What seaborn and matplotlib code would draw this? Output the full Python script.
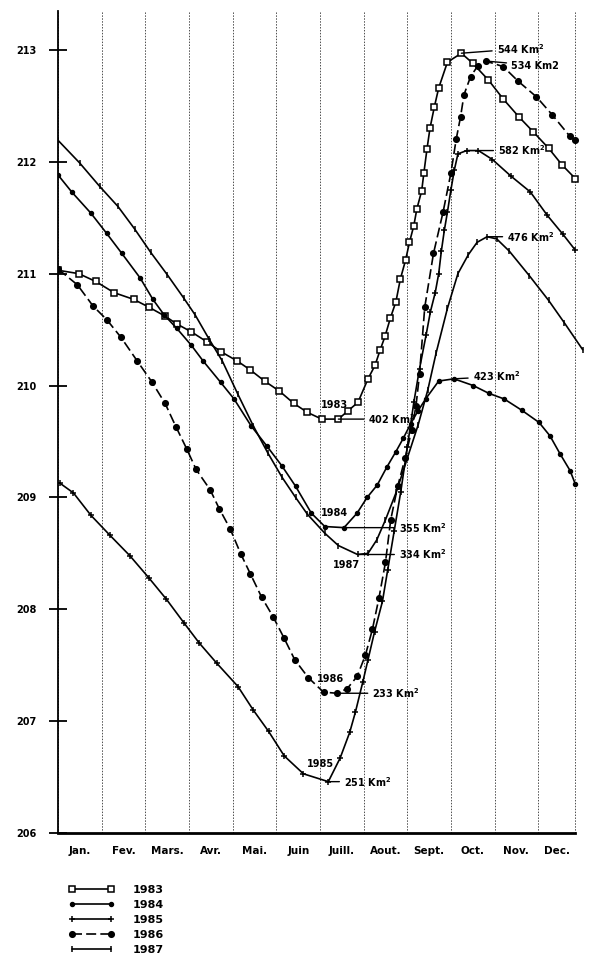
import numpy as np
import pandas as pd
import matplotlib
matplotlib.use("Agg")
import matplotlib.pyplot as plt
import seaborn as sns

# month names and month boundaries (in months from 1 Jan, last month ends early)
months = ["Jan.", "Fev.", "Mars.", "Avr.", "Mai.", "Juin", "Juill.", "Aout.",
          "Sept.", "Oct.", "Nov.", "Dec."]
month_bounds = [0, 1, 2, 3, 4, 5, 6, 7, 8, 9, 10, 11, 11.85]
y_ticks = [206, 207, 208, 209, 210, 211, 212, 213]

# water level readings (month, level) for each year
x_1983 = [0.00, 0.47, 0.86, 1.28, 1.73, 2.08, 2.45, 2.72, 3.05, 3.41, 3.74, 4.10,
          4.40, 4.73, 5.07, 5.40, 5.71, 6.04, 6.42, 6.63, 6.87, 7.10, 7.26, 7.38,
          7.49, 7.61, 7.74, 7.84, 7.96, 8.05, 8.15, 8.22, 8.33, 8.38, 8.45, 8.52,
          8.62, 8.72, 8.92, 9.24, 9.50, 9.86, 10.20, 10.56, 10.88, 11.24, 11.55, 11.85]
y_1983 = [211.03, 211.00, 210.93, 210.83, 210.77, 210.70, 210.62, 210.55, 210.48, 210.39,
          210.30, 210.22, 210.14, 210.04, 209.95, 209.84, 209.76, 209.70, 209.70, 209.77,
          209.85, 210.06, 210.18, 210.32, 210.44, 210.60, 210.75, 210.95, 211.12, 211.28,
          211.43, 211.58, 211.74, 211.90, 212.11, 212.30, 212.49, 212.66, 212.89, 212.97,
          212.88, 212.73, 212.56, 212.40, 212.27, 212.12, 211.97, 211.85]

x_1984 = [0.00, 0.31, 0.75, 1.11, 1.46, 1.88, 2.17, 2.43, 2.72, 3.05, 3.32, 3.72,
          4.03, 4.42, 4.78, 5.13, 5.44, 5.80, 6.11, 6.55, 6.85, 7.08, 7.31, 7.53,
          7.74, 7.91, 8.08, 8.24, 8.42, 8.72, 9.07, 9.51, 9.87, 10.22, 10.62, 11.02,
          11.27, 11.50, 11.73, 11.85]
y_1984 = [211.88, 211.73, 211.54, 211.36, 211.18, 210.96, 210.77, 210.63, 210.51, 210.36,
          210.22, 210.03, 209.88, 209.64, 209.46, 209.28, 209.10, 208.86, 208.74, 208.73,
          208.86, 209.00, 209.11, 209.27, 209.41, 209.53, 209.66, 209.77, 209.88, 210.04,
          210.06, 210.00, 209.93, 209.88, 209.78, 209.67, 209.55, 209.39, 209.24, 209.12]

x_1985 = [0.03, 0.35, 0.75, 1.19, 1.64, 2.08, 2.48, 2.88, 3.23, 3.63, 4.12, 4.47,
          4.82, 5.18, 5.62, 6.19, 6.46, 6.68, 6.81, 6.98, 7.10, 7.25, 7.43, 7.55,
          7.70, 7.85, 8.00, 8.15, 8.28, 8.43, 8.53, 8.64, 8.72, 8.78, 8.85, 8.92,
          9.00, 9.08, 9.16, 9.36, 9.63, 9.95, 10.38, 10.82, 11.21, 11.57, 11.85]
y_1985 = [209.13, 209.04, 208.84, 208.66, 208.48, 208.28, 208.09, 207.88, 207.70, 207.52,
          207.31, 207.10, 206.91, 206.69, 206.53, 206.46, 206.67, 206.90, 207.08, 207.35,
          207.55, 207.80, 208.07, 208.35, 208.70, 209.05, 209.45, 209.85, 210.15, 210.45,
          210.66, 210.83, 211.00, 211.20, 211.39, 211.55, 211.75, 211.93, 212.07, 212.10,
          212.10, 212.02, 211.87, 211.73, 211.52, 211.35, 211.21]

x_1986 = [0.00, 0.44, 0.80, 1.11, 1.44, 1.81, 2.15, 2.45, 2.70, 2.95, 3.16, 3.48,
          3.69, 3.94, 4.19, 4.40, 4.66, 4.93, 5.18, 5.42, 5.73, 6.08, 6.38, 6.62,
          6.85, 7.04, 7.20, 7.35, 7.50, 7.62, 7.78, 7.95, 8.10, 8.20, 8.28, 8.40,
          8.60, 8.82, 9.00, 9.12, 9.22, 9.30, 9.45, 9.62, 9.80, 10.20, 10.54, 10.96,
          11.32, 11.72, 11.85]
y_1986 = [211.04, 210.90, 210.71, 210.59, 210.43, 210.22, 210.03, 209.84, 209.63, 209.43,
          209.25, 209.07, 208.90, 208.72, 208.49, 208.32, 208.11, 207.93, 207.74, 207.55,
          207.39, 207.26, 207.25, 207.29, 207.40, 207.59, 207.82, 208.10, 208.42, 208.80,
          209.10, 209.35, 209.60, 209.82, 210.10, 210.70, 211.18, 211.55, 211.90, 212.20,
          212.40, 212.60, 212.76, 212.86, 212.90, 212.85, 212.72, 212.58, 212.42, 212.23,
          212.19]

x_1987 = [0.00, 0.49, 0.95, 1.37, 1.75, 2.12, 2.50, 2.88, 3.14, 3.45, 3.76, 4.12,
          4.47, 4.80, 5.13, 5.44, 5.71, 6.11, 6.42, 6.86, 7.10, 7.30, 7.50, 7.75,
          8.00, 8.25, 8.47, 8.66, 8.92, 9.16, 9.40, 9.60, 9.83, 10.05, 10.34, 10.80,
          11.24, 11.60, 12.02]
y_1987 = [212.19, 211.99, 211.78, 211.60, 211.40, 211.19, 210.99, 210.78, 210.63, 210.42,
          210.22, 209.92, 209.64, 209.40, 209.18, 209.00, 208.85, 208.68, 208.57, 208.49,
          208.50, 208.62, 208.80, 209.05, 209.35, 209.65, 209.96, 210.29, 210.69, 211.00,
          211.17, 211.28, 211.33, 211.31, 211.20, 210.98, 210.76, 210.56, 210.32]

years = [1983, 1984, 1985, 1986, 1987]
xs = [x_1983, x_1984, x_1985, x_1986, x_1987]
ys = [y_1983, y_1984, y_1985, y_1986, y_1987]

# surface areas written at the flood peak and at the low water level
peak_area = ["544 Km$^2$", "423 Km$^2$", "582 Km$^2$", "534 Km2", "476 Km$^2$"]
low_area = ["402 Km$^2$", "355 Km$^2$", "251 Km$^2$", "233 Km$^2$", "334 Km$^2$"]

df = pd.concat([pd.DataFrame({"month": x, "level": y, "year": yr})
                for x, y, yr in zip(xs, ys, years)], ignore_index=True)

sns.set_theme(style="white")
plt.rcParams["font.family"] = ["Liberation Sans Narrow", "DejaVu Sans"]
plt.rcParams["font.weight"] = "bold"
plt.rcParams["mathtext.default"] = "regular"
plt.rcParams["text.color"] = "black"
plt.rcParams["xtick.color"] = "black"
plt.rcParams["ytick.color"] = "black"

fig = plt.figure(figsize=(6, 9.71), dpi=100)
ax = fig.add_axes([0.097, 0.142, 0.88, 0.847])

styles = {
    1983: dict(marker="s", markersize=4, markerfacecolor="white", linestyle="-"),
    1984: dict(marker="o", markersize=2.8, markerfacecolor="black", linestyle="-"),
    1985: dict(marker="+", markersize=5, markerfacecolor="black", linestyle="-"),
    1986: dict(marker="o", markersize=4, markerfacecolor="black", linestyle=(0, (6, 2.5))),
    1987: dict(marker="|", markersize=5, markerfacecolor="black", linestyle="-"),
}

for yr in years:
    sns.lineplot(data=df[df["year"] == yr], x="month", y="level", ax=ax,
                 color="black", lw=1.2, markeredgecolor="black", markeredgewidth=1.1,
                 estimator=None, sort=False, label=str(yr), **styles[yr])

# label placement: x of each label and a small vertical nudge
peak_label_x = [10.05, 9.50, 10.08, 10.38, 10.29]
peak_label_dy = [0.04, 0.02, 0.0, -0.04, 0.0]
low_label_x = [7.11, 7.81, 6.55, 7.20, 7.81]
year_label_pos = [(6.34, 209.83), (6.34, 208.86), (6.02, 206.62), (6.23, 207.38), (6.60, 208.40)]

for i, yr in enumerate(years):
    x = np.array(xs[i])
    y = np.array(ys[i])
    flood = np.where(x >= 7)[0]
    hi = flood[len(flood) - 1 - np.argmax(y[flood][::-1])]
    lo = len(y) - 1 - np.argmin(y[::-1])
    ax.annotate(peak_area[i], xy=(x[hi], y[hi]),
                xytext=(peak_label_x[i], y[hi] + peak_label_dy[i]),
                ha="left", va="center", fontsize=7, fontweight="bold",
                arrowprops=dict(arrowstyle="-", color="black", lw=1.0, shrinkA=1, shrinkB=0))
    ax.annotate(low_area[i], xy=(x[lo], y[lo]), xytext=(low_label_x[i], y[lo]),
                ha="left", va="center", fontsize=7, fontweight="bold",
                arrowprops=dict(arrowstyle="-", color="black", lw=1.0, shrinkA=1, shrinkB=0))
    ax.text(year_label_pos[i][0], year_label_pos[i][1], str(yr), ha="center", va="center",
            fontsize=7, fontweight="bold")

# axes
ax.set_xlim(0, 12.1)
ax.set_ylim(206, 213.35)
ax.set_xticks(month_bounds)
ax.set_xticklabels([])
ax.set_xticks([(a + b) / 2 for a, b in zip(month_bounds[:-1], month_bounds[1:])], minor=True)
ax.set_xticklabels(months, minor=True, fontsize=7.5, fontweight="bold")
ax.tick_params(axis="x", which="both", length=0)
ax.tick_params(axis="x", which="minor", pad=9)
ax.grid(True, axis="x", which="major", color="0.3", lw=0.7, linestyle=(0, (1.5, 1.5)))
ax.set_yticks(y_ticks)
ax.set_yticklabels([str(v) for v in y_ticks], fontsize=7, fontweight="bold")
ax.tick_params(axis="y", direction="inout", length=13, width=1.3, pad=9, left=True)
ax.set_xlabel("")
ax.set_ylabel("")

sns.despine(ax=ax, top=True, right=True)
ax.spines["left"].set_linewidth(1.3)
ax.spines["left"].set_color("black")
ax.spines["bottom"].set_linewidth(2.0)
ax.spines["bottom"].set_color("black")
ax.spines["bottom"].set_bounds(0, 11.85)

handles, labels = ax.get_legend_handles_labels()
ax.legend(handles, labels, loc="upper left", bbox_to_anchor=(0.105, 0.094),
          bbox_transform=fig.transFigure, frameon=False, numpoints=2,
          handlelength=4.1, handletextpad=1.7, labelspacing=0.45, borderpad=0,
          prop={"size": 8, "weight": "bold"})

fig.savefig("out.png", dpi=100, facecolor="white")
